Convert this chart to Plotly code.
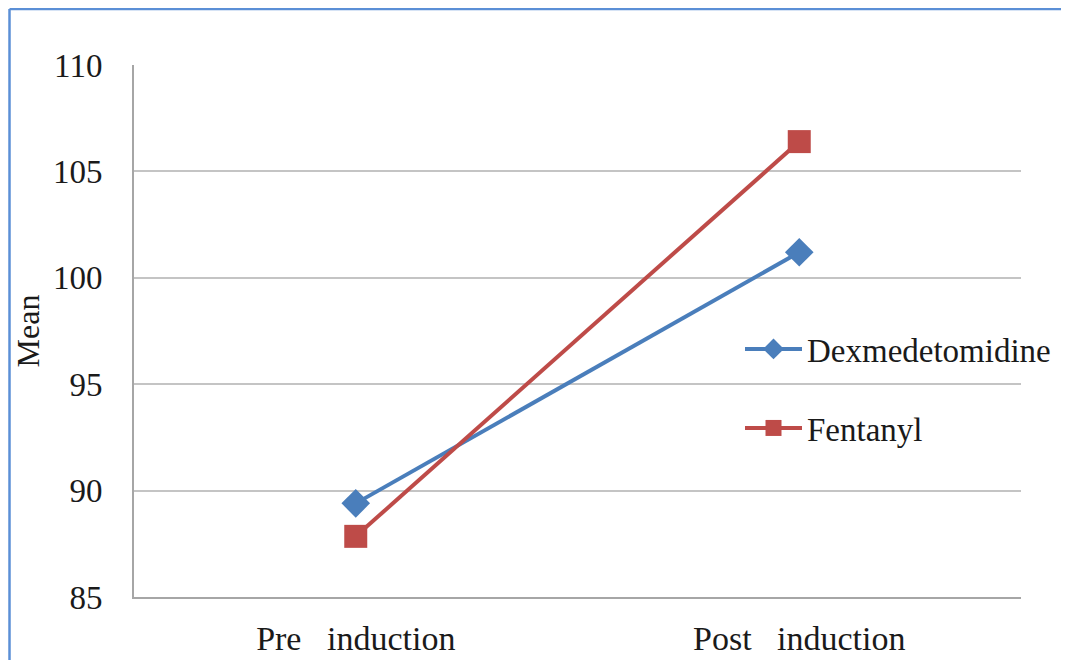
import plotly.graph_objects as go

categories = ["Pre   induction", "Post   induction"]
dex_values = [89.4, 101.2]
fen_values = [87.85, 106.4]
y_ticks = [85, 90, 95, 100, 105, 110]

FONT = "Liberation Serif, Times New Roman, DejaVu Serif, serif"
BLUE = "#4a7ebb"
RED = "#be4b48"

fig = go.Figure()
fig.add_trace(go.Scatter(
    x=categories, y=dex_values, name="Dexmedetomidine", mode="lines+markers",
    line=dict(color=BLUE, width=4),
    marker=dict(symbol="diamond", size=22, color=BLUE),
    legend="legend",
))
fig.add_trace(go.Scatter(
    x=categories, y=fen_values, name="Fentanyl", mode="lines+markers",
    line=dict(color=RED, width=4),
    marker=dict(symbol="square", size=23, color=RED),
    legend="legend2",
))

# page body has an 8px margin; work in absolute page pixels and convert
OFF = 8
W, H = 1069 - OFF, 660 - OFF
L, R, T, B = 134 - OFF, 48, 65 - OFF, 63
pw, ph = W - L - R, H - T - B

def px(xabs):
    return (xabs - OFF - L) / pw

def py(yabs):
    return (H - B - (yabs - OFF)) / ph

fig.update_layout(
    width=W, height=H,
    margin=dict(l=L, r=R, t=T, b=B, autoexpand=False),
    paper_bgcolor="white", plot_bgcolor="white",
    font=dict(family=FONT, size=34, color="#1a1a1a"),
    xaxis=dict(
        range=[-0.5, 1.5], automargin=False,
        showgrid=False, showline=True, linecolor="#a6a6a6", linewidth=2,
        ticks="", ticklabelstandoff=10, tickfont=dict(family=FONT, size=34),
    ),
    yaxis=dict(
        range=[85, 110], tickvals=y_ticks, showgrid=True, gridcolor="#c4c4c4",
        gridwidth=2, showline=True, linecolor="#a6a6a6", linewidth=2,
        zeroline=False, ticks="", ticklabelstandoff=23, automargin=False,
        tickfont=dict(family=FONT, size=33),
        title=dict(text="Mean", font=dict(family=FONT, size=32), standoff=4),
    ),
    legend=dict(x=px(740), y=py(349), xanchor="left", yanchor="middle",
                itemwidth=57,
                bgcolor="rgba(0,0,0,0)", font=dict(family=FONT, size=33)),
    legend2=dict(x=px(740), y=py(428), xanchor="left", yanchor="middle",
                 itemwidth=57,
                 bgcolor="rgba(0,0,0,0)", font=dict(family=FONT, size=33)),
    showlegend=True,
)

# outer chart border (blue, top and left visible)
fig.add_shape(type="line", xref="paper", yref="paper",
              x0=px(9.5), x1=px(1080), y0=py(9), y1=py(9),
              line=dict(color="#5b8fd6", width=2.5))
fig.add_shape(type="line", xref="paper", yref="paper",
              x0=px(9.5), x1=px(9.5), y0=py(9), y1=py(680),
              line=dict(color="#5b8fd6", width=2.5))

fig.write_html("out.html")
